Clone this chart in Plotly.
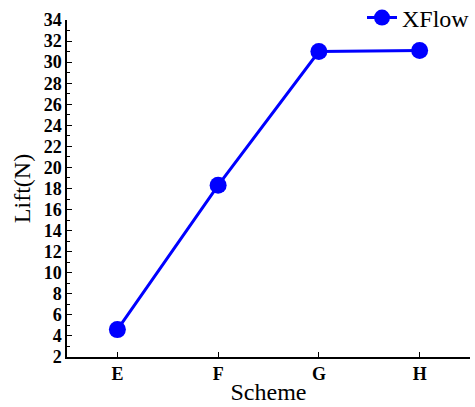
import plotly.graph_objects as go

schemes = ["E", "F", "G", "H"]
lift = [4.6, 18.3, 31.0, 31.1]
y_ticks = list(range(2, 35, 2))

fig = go.Figure()
fig.add_trace(go.Scatter(
    x=schemes, y=lift, mode="lines+markers", name="XFlow",
    line=dict(color="#0000FF", width=3),
    marker=dict(color="#0000FF", size=17),
))

fig.update_layout(
    width=475, height=407,
    margin=dict(l=67, r=5, t=20, b=50, autoexpand=False),
    paper_bgcolor="white", plot_bgcolor="white",
    font=dict(family="Liberation Serif", color="black"),
    showlegend=True,
    legend=dict(xref="container", yref="container",
                x=1.01, y=1 - 18 / 407, xanchor="right", yanchor="middle",
                font=dict(size=24, family="Liberation Serif"),
                bgcolor="rgba(0,0,0,0)", itemwidth=30,
                borderwidth=0),
)
fig.update_xaxes(
    type="category", range=[-0.5, 3.5],
    showline=True, linecolor="black", linewidth=1.5,
    ticks="inside", ticklen=5, tickcolor="black",
    tickfont=dict(size=18, family="Liberation Serif", weight="bold"),
    title=dict(text="Scheme", font=dict(size=24), standoff=0),
    showgrid=False, zeroline=False,
)
fig.update_yaxes(
    range=[2, 34], tickvals=y_ticks,
    showline=True, linecolor="black", linewidth=1.5,
    ticks="inside", ticklen=5, tickcolor="black",
    minor=dict(ticks="inside", ticklen=3, dtick=1, tickcolor="black", showgrid=False),
    tickfont=dict(size=18, family="Liberation Serif", weight="bold"),
    title=dict(text="Lift(N)", font=dict(size=24), standoff=6),
    showgrid=False, zeroline=False,
)

fig.write_html("out.html")
